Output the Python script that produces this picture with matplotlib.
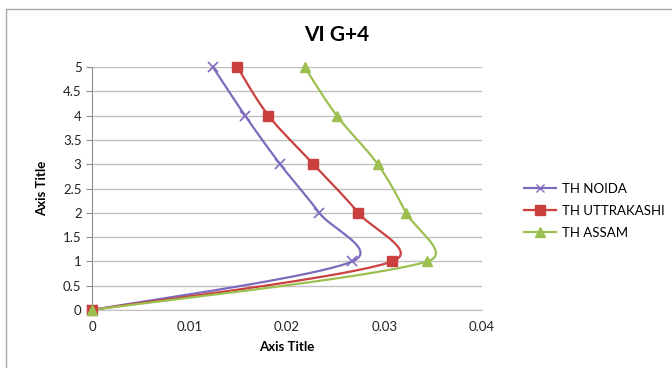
import numpy as np
import matplotlib
matplotlib.use("Agg")
import matplotlib.pyplot as plt
from matplotlib.lines import Line2D
from matplotlib.patches import Rectangle

plt.rcParams['font.family'] = ['Lato', 'DejaVu Sans']

storey = [0, 1, 2, 3, 4, 5]
th_noida = [0.0, 0.0267, 0.0233, 0.0193, 0.0157, 0.0124]
th_uttrakashi = [0.0, 0.0308, 0.0273, 0.0227, 0.0181, 0.0149]
th_assam = [0.0, 0.0344, 0.0322, 0.0293, 0.0251, 0.0218]

series_names = ["TH NOIDA", "TH UTTRAKASHI", "TH ASSAM"]
series_colors = ["#7E6BBE", "#C9403E", "#9BC050"]
series_markers = ["x", "s", "^"]
x_ticks = [0, 0.01, 0.02, 0.03, 0.04]
y_ticks = [0, 0.5, 1, 1.5, 2, 2.5, 3, 3.5, 4, 4.5, 5]

AX_W_PX, AX_H_PX = 390, 243


def smooth(xs, ys, n=40):
    """Bezier-smoothed path through the points in data order, built in screen
    space, with control arms shortened on short segments."""
    p = np.column_stack([xs, ys]).astype(float)
    sx = 0.04 / AX_W_PX
    sy = 5.0 / AX_H_PX
    q = p / [sx, sy]
    pts = np.vstack([q[0], q, q[-1]])
    out = []
    for i in range(1, len(pts) - 2):
        p0, p1, p2, p3 = pts[i - 1], pts[i], pts[i + 1], pts[i + 2]
        d02 = np.linalg.norm(p2 - p0)
        d13 = np.linalg.norm(p3 - p1)
        d12 = np.linalg.norm(p2 - p1)
        f1 = 1 / 6 if d02 / 6 < d12 / 2 else d12 / (2 * d02)
        f2 = 1 / 6 if d13 / 6 < d12 / 2 else d12 / (2 * d13)
        c1 = p1 + (p2 - p0) * f1
        c2 = p2 - (p3 - p1) * f2
        t = np.linspace(0, 1, n)[:, None]
        seg = ((1 - t) ** 3) * p1 + 3 * ((1 - t) ** 2) * t * c1 + 3 * (1 - t) * t ** 2 * c2 + t ** 3 * p2
        out.append(seg if i == 1 else seg[1:])
    curve = np.vstack(out) * [sx, sy]
    return curve[:, 0], curve[:, 1]


fig = plt.figure(figsize=(6.72, 3.68), dpi=100)
fig.patches.append(Rectangle((6 / 672, -0.05), 1.2, 1 - 9 / 368 + 0.05,
                             transform=fig.transFigure, fill=False,
                             edgecolor="#A6A6A6", linewidth=1.0))

ax = fig.add_axes([92 / 672, 58 / 368, AX_W_PX / 672, AX_H_PX / 368])

for vals, name, col, mk in zip([th_noida, th_uttrakashi, th_assam],
                               series_names, series_colors, series_markers):
    cx, cy = smooth(vals, storey)
    ax.plot(cx, cy, color=col, linewidth=1.6, zorder=3, clip_on=False)
    if mk == "x":
        ax.plot(vals, storey, linestyle="none", marker=mk, color=col,
                markersize=6.5, markeredgewidth=1.2, zorder=4, clip_on=False)
    else:
        ax.plot(vals, storey, linestyle="none", marker=mk, color=col,
                markersize=7, zorder=4, clip_on=False)

ax.set_xlim(0, 0.04)
ax.set_ylim(0, 5)
ax.set_xticks(x_ticks)
ax.set_xticklabels(["0", "0.01", "0.02", "0.03", "0.04"])
ax.set_yticks(y_ticks)
ax.set_yticklabels(["0", "0.5", "1", "1.5", "2", "2.5", "3", "3.5", "4", "4.5", "5"])
ax.grid(axis="y", color="#BFBFBF", linewidth=1.0)
ax.set_axisbelow(True)
for s in ["top", "right"]:
    ax.spines[s].set_visible(False)
ax.spines["bottom"].set_color("#BFBFBF")
ax.spines["left"].set_color("#8C8C8C")
ax.tick_params(axis="x", length=0, labelsize=9.5, pad=8, colors="#222222")
ax.tick_params(axis="y", length=4, direction="out", color="#8C8C8C",
               labelsize=9.5, colors="#222222")
ax.set_xlabel("Axis Title", fontsize=9.5, fontweight="bold", labelpad=6)
ax.set_ylabel("Axis Title", fontsize=9.5, fontweight="bold", labelpad=11)

fig.text(337 / 672, 1 - 35 / 368, "VI G+4", fontsize=15, fontweight="bold",
         ha="center", va="center")

handles = [Line2D([0], [0], color=c, marker=m, markersize=7 if m != "x" else 6,
                  linewidth=1.6) for c, m in zip(series_colors, series_markers)]
fig.legend(handles, series_names, loc="center left",
           bbox_to_anchor=(512 / 672, 1 - 211 / 368), frameon=False,
           fontsize=9.5, handlelength=2.4, labelspacing=0.75, handletextpad=0.5)

fig.savefig("out.png", dpi=100)
